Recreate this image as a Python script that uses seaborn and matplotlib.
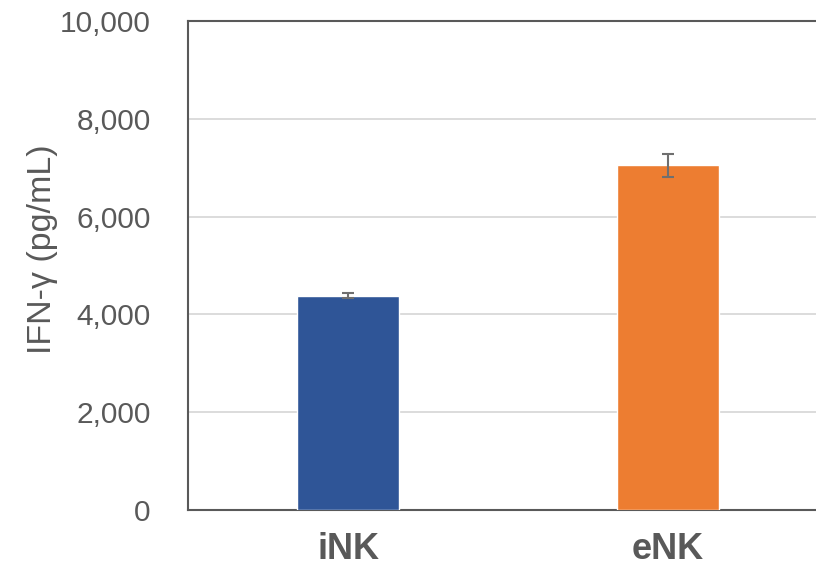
import matplotlib
matplotlib.use("Agg")
import matplotlib.pyplot as plt
import seaborn as sns
import pandas as pd

# IFN-γ secretion by cell type (mean ± error)
cell_types = ["iNK", "eNK"]
ifng_mean = [4380, 7050]
ifng_err = [50, 240]
bar_colors = ["#2F5597", "#ED7D31"]
y_ticks = [0, 2000, 4000, 6000, 8000, 10000]

sns.set_theme(style="white")
plt.rcParams["font.family"] = ["Liberation Sans", "DejaVu Sans"]

df = pd.DataFrame({"cell": cell_types, "ifng": ifng_mean})

fig = plt.figure(figsize=(8.16, 5.70), dpi=100)
ax = fig.add_axes([188 / 816, 1 - 510 / 570, 640 / 816, 489 / 570])

sns.barplot(data=df, x="cell", y="ifng", hue="cell", palette=bar_colors,
            width=0.316, legend=False, ax=ax, zorder=3, saturation=1)
ax.errorbar(range(len(cell_types)), ifng_mean, yerr=ifng_err, fmt="none",
            ecolor="#6F6F6F", elinewidth=1.5, capsize=4.5, capthick=1.5, zorder=4)

ax.set_ylim(0, 10000)
ax.set_xlim(-0.5, 1.5)
ax.set_yticks(y_ticks)
ax.set_yticklabels([f"{v:,}" for v in y_ticks])
ax.yaxis.grid(True, color="#D9D9D9", linewidth=1.3, zorder=0)
ax.set_axisbelow(True)

for side in ("left", "bottom", "top"):
    ax.spines[side].set_color("#595959")
    ax.spines[side].set_linewidth(1.5)
ax.spines["right"].set_visible(False)

ax.tick_params(axis="y", length=0, pad=27, labelsize=21.5, labelcolor="#595959")
ax.tick_params(axis="x", length=0, pad=16, labelsize=26, labelcolor="#595959")
for lbl in ax.get_xticklabels():
    lbl.set_fontweight("bold")

ax.set_xlabel("")
ax.set_ylabel("IFN-γ (pg/mL)", fontsize=24.5, color="#595959")
ax.yaxis.set_label_coords(-0.203, 0.534)

fig.savefig("out.png", dpi=100)
